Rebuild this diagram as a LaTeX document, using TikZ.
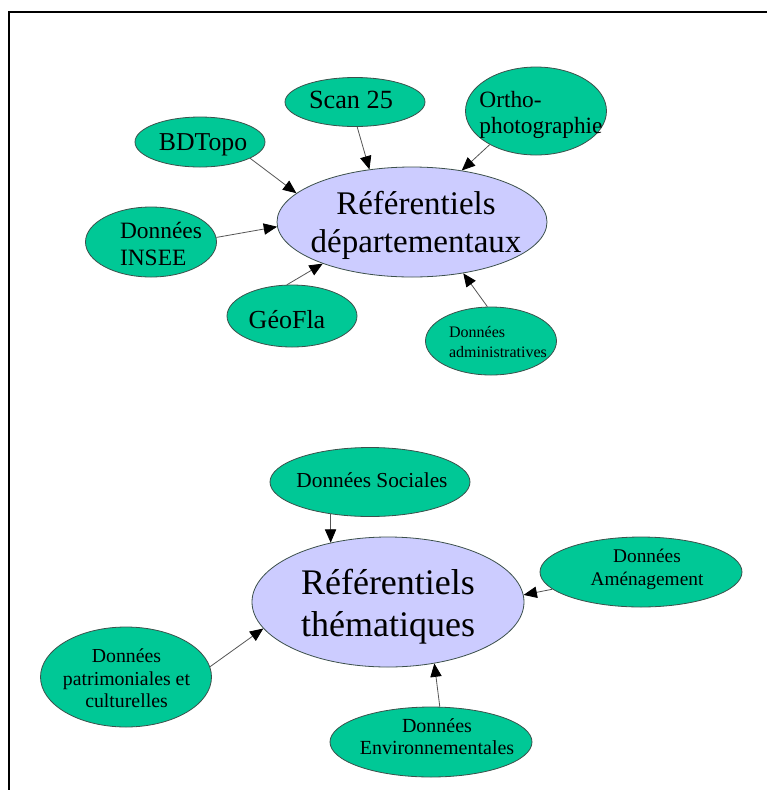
\documentclass[tikz,border=0pt]{standalone}
\usepackage{fontspec}
\setmainfont{Liberation Serif}
\usetikzlibrary{shapes.geometric,arrows.meta}
\definecolor{srcgreen}{RGB}{0,200,150}
\definecolor{hublav}{RGB}{204,204,255}
\definecolor{edgecol}{RGB}{60,80,75}
\definecolor{arrcol}{RGB}{85,85,85}
\tikzset{
  srcnode/.style={ellipse, draw=edgecol, fill=srcgreen, line width=0.6pt, inner sep=0pt},
  hubnode/.style={ellipse, draw=edgecol, fill=hublav, line width=0.6pt, inner sep=0pt},
  txt/.style={inner sep=0pt, text=black},
  conn/.style={draw=arrcol, line width=0.6pt, -{Triangle[length=10pt,width=8.5pt,black]}},
}
\begin{document}
\begin{tikzpicture}[x=0.75pt,y=-0.75pt]
\useasboundingbox[fill=white] (0,0) rectangle (767,790);
\draw[line width=1.5pt] (8.5,790) -- (8.5,11.5) -- (767,11.5);

% ---- top group ----
\node[hubnode, minimum width=202.5pt, minimum height=82.5pt] (hubA) at (412,222) {};
\node[txt, align=center, font=\fontsize{24.75pt}{28.5pt}\selectfont] (hubAtxt) at (416,225) {Référentiels\\départementaux};

\node[srcnode, minimum width=105pt, minimum height=36.75pt] (scan) at (355,102) {};
\node[txt, anchor=base, font=\fontsize{19.7pt}{23pt}\selectfont] (scantxt) at (351,108) {Scan 25};

\node[srcnode, minimum width=105.75pt, minimum height=66pt] (ortho) at (536,111) {};
\node[txt, align=left, font=\fontsize{17.5pt}{19.5pt}\selectfont] (orthotxt) at (541,114.5) {Ortho-\\photographie};

\node[srcnode, minimum width=97.5pt, minimum height=37.5pt] (bdtopo) at (200,142) {};
\node[txt, anchor=base, font=\fontsize{19.3pt}{23pt}\selectfont] (bdtopotxt) at (203,150) {BDTopo};

\node[srcnode, minimum width=98.25pt, minimum height=52.5pt] (insee) at (151,242) {};
\node[txt, align=left, font=\fontsize{17.55pt}{20.25pt}\selectfont] (inseetxt) at (161,243.5) {Données\\INSEE};

\node[srcnode, minimum width=97.5pt, minimum height=46.5pt] (geofla) at (292,316) {};
\node[txt, anchor=base, font=\fontsize{19.5pt}{23pt}\selectfont] (geoflatxt) at (287,328) {GéoFla};

\node[srcnode, minimum width=98.25pt, minimum height=51pt] (admin) at (491,341) {};
\node[txt, align=left, font=\fontsize{12pt}{15pt}\selectfont] (admintxt) at (498,342.5) {Données\\administratives};

\draw[conn] (scan.275) -- (hubA.129);
\draw[conn] (ortho.216) -- (hubA.46);
\draw[conn] (bdtopo.342) -- (hubA.166);
\draw[conn] (insee.4) -- (hubA.182);
\draw[conn] (geofla.99) -- (hubA.205);
\draw[conn] (admin.96) -- (hubA.315);

% ---- bottom group ----
\node[hubnode, minimum width=204pt, minimum height=97.5pt] (hubB) at (388,602) {};
\node[txt, align=center, font=\fontsize{27pt}{31.5pt}\selectfont] (hubBtxt) at (388,607) {Référentiels\\thématiques};

\node[srcnode, minimum width=150pt, minimum height=51.75pt] (soc) at (370,482) {};
\node[txt, anchor=base, font=\fontsize{16pt}{19pt}\selectfont] (soctxt) at (372,487) {Données Sociales};

\node[srcnode, minimum width=151.5pt, minimum height=52.5pt] (amen) at (641,572) {};
\node[txt, align=center, font=\fontsize{14.5pt}{17.25pt}\selectfont] (amentxt) at (647,569) {Données\\Aménagement};

\node[srcnode, minimum width=128.25pt, minimum height=75pt] (patr) at (126,677) {};
\node[txt, align=center, font=\fontsize{14.85pt}{17pt}\selectfont] (patrtxt) at (126.5,678.5) {Données\\patrimoniales et\\culturelles};

\node[srcnode, minimum width=151.5pt, minimum height=52.5pt] (env) at (431,742) {};
\node[txt, align=center, font=\fontsize{15pt}{16.5pt}\selectfont] (envtxt) at (437,737) {Données\\Environnementales};

\draw[conn] (soc.219) -- (hubB.134);
\draw[conn] (amen.191) -- (hubB.3);
\draw[conn] (patr.7) -- (hubB.192);
\draw[conn] (env.76) -- (hubB.307);
\end{tikzpicture}
\end{document}
